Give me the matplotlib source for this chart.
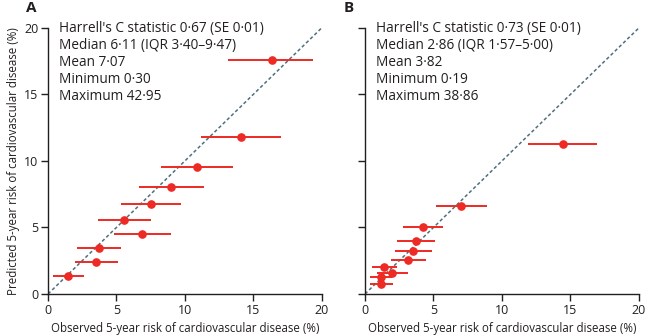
import matplotlib
matplotlib.use('Agg')
import matplotlib.pyplot as plt

plt.rcParams['font.family'] = ['Open Sans', 'DejaVu Sans']

# panel A
obs_a = [1.46, 3.54, 3.71, 6.90, 5.59, 7.54, 9.00, 10.90, 14.10, 16.34]
pred_a = [1.36, 2.41, 3.44, 4.49, 5.55, 6.73, 8.03, 9.51, 11.77, 17.59]
lo_a = [0.37, 1.95, 2.12, 4.83, 3.68, 5.34, 6.63, 8.27, 11.17, 13.15]
hi_a = [2.63, 5.15, 5.34, 9.00, 7.54, 9.73, 11.37, 13.54, 17.00, 19.39]
text_a = ["Harrell's C statistic 0·67 (SE 0·01)", "Median 6·11 (IQR 3·40–9·47)",
          "Mean 7·07", "Minimum 0·30", "Maximum 42·95"]

# panel B
obs_b = [1.17, 1.17, 1.95, 1.41, 3.14, 3.53, 3.70, 4.21, 7.03, 14.45]
pred_b = [0.75, 1.25, 1.61, 2.03, 2.56, 3.21, 4.01, 5.04, 6.62, 11.29]
lo_b = [0.34, 0.34, 0.88, 0.51, 1.87, 2.19, 2.34, 2.75, 5.21, 11.87]
hi_b = [2.04, 2.00, 3.11, 2.34, 4.48, 4.89, 5.11, 5.72, 8.90, 16.96]
text_b = ["Harrell's C statistic 0·73 (SE 0·01)", "Median 2·86 (IQR 1·57–5·00)",
          "Mean 3·82", "Minimum 0·19", "Maximum 38·86"]

red = '#ee2a24'
txt = '#231f20'

fig = plt.figure(figsize=(6.46, 3.36), dpi=100)
axA = fig.add_axes([0.0743, 0.125, 0.4237, 0.792])
axB = fig.add_axes([0.565, 0.125, 0.424, 0.792])

def draw(ax, obs, pred, lo, hi, lines, label, ylab):
    ax.plot([0, 20], [0, 20], ls=(0, (2.2, 1.6)), color='#4f6f7d', lw=1.1, zorder=1)
    xerr = [[o - l for o, l in zip(obs, lo)], [h - o for o, h in zip(obs, hi)]]
    ax.errorbar(obs, pred, xerr=xerr, fmt='o', color=red, ecolor=red, elinewidth=1.4,
                capsize=0, markersize=5.2, zorder=3)
    ax.set_xlim(0, 20)
    ax.set_ylim(0, 20)
    ax.set_xticks([0, 5, 10, 15, 20])
    ax.set_yticks([0, 5, 10, 15, 20])
    for s in ['top', 'right']:
        ax.spines[s].set_visible(False)
    for s in ['left', 'bottom']:
        ax.spines[s].set_color(txt)
        ax.spines[s].set_linewidth(1.0)
    ax.tick_params(direction='out', length=5, width=1.0, colors=txt, labelsize=9, pad=2)
    ax.set_xlabel('Observed 5-year risk of cardiovascular disease (%)', fontsize=8.3, color=txt, labelpad=4)
    if ylab:
        ax.set_ylabel('Predicted 5-year risk of cardiovascular disease (%)', fontsize=8.3, color=txt, labelpad=3)
    else:
        ax.set_yticklabels([])
    for i, t in enumerate(lines):
        ax.text(0.04, 0.997 - i * 0.0635, t, transform=ax.transAxes, fontsize=9.8,
                color=txt, va='center', ha='left')
    ax.text(-0.06, 1.075, label, transform=ax.transAxes, fontsize=11, fontweight='bold',
            color=txt, va='center', ha='center')

draw(axA, obs_a, pred_a, lo_a, hi_a, text_a, 'A', True)
draw(axB, obs_b, pred_b, lo_b, hi_b, text_b, 'B', False)

fig.savefig('out.png', dpi=100)
